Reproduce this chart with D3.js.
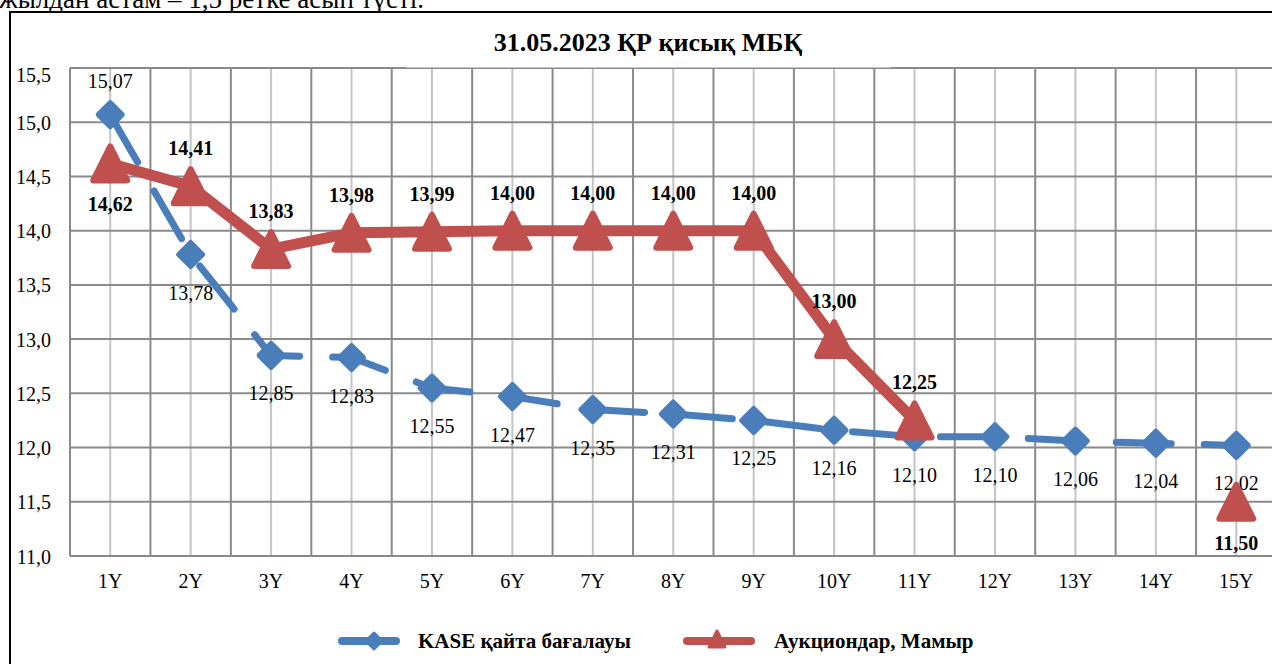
<!DOCTYPE html>
<html>
<head>
<meta charset="utf-8">
<script src="https://cdn.jsdelivr.net/npm/d3@7"></script>
<style>
    body { margin: 0; background: #fff; }
    svg, svg text { font-family: "Liberation Serif", "Times New Roman", serif; }
</style>
</head>
<body>
<div id="chart"></div>
<script>
// data
const categories = ["1Y", "2Y", "3Y", "4Y", "5Y", "6Y", "7Y", "8Y", "9Y", "10Y", "11Y", "12Y", "13Y", "14Y", "15Y"];
const kaseValues = [15.07, 13.78, 12.85, 12.83, 12.55, 12.47, 12.35, 12.31, 12.25, 12.16, 12.10, 12.10, 12.06, 12.04, 12.02];
const auctionValues = [14.62, 14.41, 13.83, 13.98, 13.99, 14.00, 14.00, 14.00, 14.00, 13.00, 12.25, null, null, null, 11.50];
const kaseLabelSide = ["above", "below", "below", "below", "below", "below", "below", "below", "below", "below", "below", "below", "below", "below", "below"];
const auctionLabelSide = ["below", "above", "above", "above", "above", "above", "above", "above", "above", "above", "above", null, null, null, "below"];
const yTicks = [11.0, 11.5, 12.0, 12.5, 13.0, 13.5, 14.0, 14.5, 15.0, 15.5];
const seriesNames = ["KASE қайта бағалауы", "Аукциондар, Мамыр"];
const chartTitle = "31.05.2023 ҚР қисық МБҚ";
const pageText = "жылдан астам – 1,5 ретке асып түсті.";

const width = 1272, height = 664;
const plot = { left: 70, top: 68, right: 1276.5, bottom: 556 };
const blue = "#4a7ebb", red = "#c0504d";
const majorGrid = "#8a8a8a", minorGrid = "#c4c4c4";

const comma = (f) => (v) => d3.format(f)(v).replace(".", ",");

const svg = d3.select("#chart")
    .append("svg")
    .attr("width", width)
    .attr("height", height);

// page text above the chart frame (cut off at the top, as in the document)
svg.append("text")
    .text(pageText)
    .attr("x", -1)
    .attr("y", 8)
    .attr("font-size", 27);

// chart frame
svg.append("rect")
    .attr("x", 10).attr("y", 12)
    .attr("width", 1300).attr("height", 700)
    .attr("fill", "#fff")
    .attr("stroke", "#000")
    .attr("stroke-width", 2);

// scales
const xScale = d3.scaleBand()
    .domain(categories)
    .range([plot.left, plot.right])
    .padding(0);
const xc = d => xScale(d) + xScale.bandwidth() / 2;

const yScale = d3.scaleLinear()
    .domain([11, 15.5])
    .range([plot.bottom, plot.top]);

// grid: light lines at category centres, dark ones at category edges and y ticks
const grid = svg.append("g");
grid.selectAll(".minor")
    .data(categories)
    .join("line")
        .attr("x1", d => xc(d)).attr("x2", d => xc(d))
        .attr("y1", plot.top).attr("y2", plot.bottom)
        .attr("stroke", minorGrid)
        .attr("stroke-width", 2);
grid.selectAll(".major")
    .data(d3.range(categories.length + 1))
    .join("line")
        .attr("x1", i => plot.left + i * xScale.bandwidth())
        .attr("x2", i => plot.left + i * xScale.bandwidth())
        .attr("y1", plot.top).attr("y2", plot.bottom)
        .attr("stroke", majorGrid)
        .attr("stroke-width", 2);
grid.selectAll(".hline")
    .data(yTicks)
    .join("line")
        .attr("x1", plot.left).attr("x2", plot.right)
        .attr("y1", d => yScale(d)).attr("y2", d => yScale(d))
        .attr("stroke", majorGrid)
        .attr("stroke-width", 2);

// title with its white box over the top gridline
svg.append("rect")
    .attr("x", 406).attr("y", 26)
    .attr("width", 485).attr("height", 41.5)
    .attr("fill", "#fff");
svg.append("text")
    .text(chartTitle)
    .attr("x", 648)
    .attr("y", 51)
    .attr("text-anchor", "middle")
    .attr("font-size", 26)
    .attr("font-weight", "bold");

// axes
const leftAxis = d3.axisLeft(yScale)
    .tickValues(yTicks)
    .tickFormat(comma(".1f"))
    .tickSize(0)
    .tickPadding(0);
const yAxis = svg.append("g")
    .attr("transform", "translate(51,0)")
    .call(leftAxis)
    .attr("font-family", null)
    .attr("font-size", 20);
yAxis.select(".domain").remove();
yAxis.selectAll("text")
    .attr("fill", "#000")
    .attr("dy", d => d === 15.5 ? "0.65em" : "0.35em");

const bottomAxis = d3.axisBottom(xScale)
    .tickSize(0)
    .tickPadding(0);
const xAxis = svg.append("g")
    .attr("transform", `translate(0,${plot.bottom})`)
    .call(bottomAxis)
    .attr("font-family", null)
    .attr("font-size", 20);
xAxis.select(".domain").remove();
xAxis.selectAll("text")
    .attr("fill", "#000")
    .attr("y", 32)
    .attr("dy", 0);

// KASE series: dashed line with diamonds
const kaseData = categories.map((c, i) => ({ c, v: kaseValues[i], side: kaseLabelSide[i] }));
const line = d3.line()
    .defined(d => d.v != null)
    .x(d => xc(d.c))
    .y(d => yScale(d.v));

svg.append("path")
    .datum(kaseData)
    .attr("d", line)
    .attr("fill", "none")
    .attr("stroke", blue)
    .attr("stroke-width", 7)
    .attr("stroke-dasharray", "55,33")
    .attr("stroke-linecap", "round")
    .attr("stroke-linejoin", "round");

const diamond = (r) => `M0,${-r}L${r},0L0,${r}L${-r},0Z`;
svg.append("g")
    .selectAll("path")
    .data(kaseData)
    .join("path")
        .attr("d", diamond(12))
        .attr("transform", d => `translate(${xc(d.c)},${yScale(d.v)})`)
        .attr("fill", blue)
        .attr("stroke", blue)
        .attr("stroke-width", 5)
        .attr("stroke-linejoin", "round");

svg.append("g")
    .selectAll("text")
    .data(kaseData)
    .join("text")
        .text(d => comma(".2f")(d.v))
        .attr("x", d => xc(d.c))
        .attr("y", d => yScale(d.v) + (d.side === "above" ? -27 : 45))
        .attr("text-anchor", "middle")
        .attr("font-size", 20);

// auction series: thick line with triangles
const auctionData = categories.map((c, i) => ({ c, v: auctionValues[i], side: auctionLabelSide[i] }));
svg.append("path")
    .datum(auctionData)
    .attr("d", line)
    .attr("fill", "none")
    .attr("stroke", red)
    .attr("stroke-width", 11)
    .attr("stroke-linecap", "round")
    .attr("stroke-linejoin", "round");

const triangle = (w, h) => `M0,${-h / 2}L${w / 2},${h / 2}L${-w / 2},${h / 2}Z`;
svg.append("g")
    .selectAll("path")
    .data(auctionData.filter(d => d.v != null))
    .join("path")
        .attr("d", triangle(34, 34))
        .attr("transform", d => `translate(${xc(d.c)},${yScale(d.v)})`)
        .attr("fill", red)
        .attr("stroke", red)
        .attr("stroke-width", 6)
        .attr("stroke-linejoin", "round");

svg.append("g")
    .selectAll("text")
    .data(auctionData.filter(d => d.v != null))
    .join("text")
        .text(d => comma(".2f")(d.v))
        .attr("x", d => xc(d.c))
        .attr("y", d => yScale(d.v) + (d.side === "above" ? -31 : 48))
        .attr("text-anchor", "middle")
        .attr("font-size", 20)
        .attr("font-weight", "bold");

// legend
const legend = svg.append("g").attr("transform", "translate(0,641)");
legend.append("line")
    .attr("x1", 342).attr("x2", 396)
    .attr("stroke", blue).attr("stroke-width", 8)
    .attr("stroke-linecap", "round");
legend.append("path")
    .attr("d", diamond(8))
    .attr("transform", "translate(374,0)")
    .attr("fill", blue).attr("stroke", blue)
    .attr("stroke-width", 3).attr("stroke-linejoin", "round");
legend.append("text")
    .text(seriesNames[0])
    .attr("x", 418).attr("y", 7)
    .attr("font-size", 21)
    .attr("font-weight", "bold");
legend.append("line")
    .attr("x1", 687).attr("x2", 751)
    .attr("stroke", red).attr("stroke-width", 8)
    .attr("stroke-linecap", "round");
legend.append("path")
    .attr("d", triangle(16, 16))
    .attr("transform", "translate(717,-2)")
    .attr("fill", red).attr("stroke", red)
    .attr("stroke-width", 3).attr("stroke-linejoin", "round");
legend.append("text")
    .text(seriesNames[1])
    .attr("x", 774).attr("y", 7)
    .attr("font-size", 21)
    .attr("font-weight", "bold");
</script>
</body>
</html>
